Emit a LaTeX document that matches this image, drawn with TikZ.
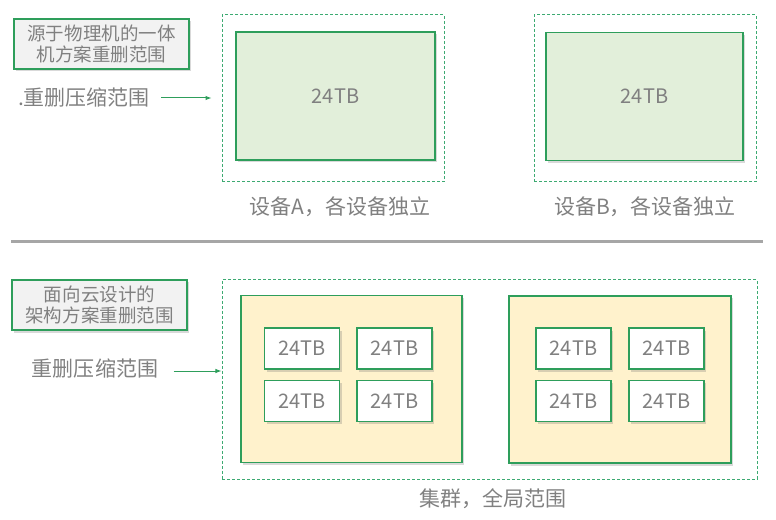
\documentclass[tikz,border=0pt]{standalone}
\usepackage{fontspec}
\setmainfont{Noto Sans CJK SC}
\usepackage{tikz}
\usetikzlibrary{arrows.meta,positioning,shadows}
\definecolor{DedupGreen}{HTML}{2E9E5B}
\definecolor{DashGreen}{HTML}{3DAA72}
\definecolor{TextGrey}{HTML}{808080}
\definecolor{DevFill}{HTML}{E2EFDA}
\definecolor{ClusterFill}{HTML}{FFF2CC}
\definecolor{NoteFill}{HTML}{F2F2F2}
\definecolor{RuleGrey}{HTML}{A6A6A6}
\tikzset{
  boxshadow/.style={drop shadow={shadow xshift=2bp,shadow yshift=-2.5bp,opacity=0.25,fill=black!60}},
  notebox/.style={rectangle,draw=DedupGreen,fill=NoteFill,line width=1.2bp,boxshadow,
              minimum width=175bp,minimum height=50bp,align=center,text=TextGrey,
              font=\fontsize{18.5bp}{21.5bp}\selectfont},
  devbox/.style={rectangle,draw=DedupGreen,fill=DevFill,line width=1.2bp,boxshadow,
              minimum width=199bp,minimum height=128bp,text=TextGrey,
              font=\fontsize{20bp}{24bp}\selectfont},
  dashbox/.style={rectangle,draw=DashGreen,dash pattern=on 3bp off 2bp,line width=1bp},
  clusterbox/.style={rectangle,draw=DedupGreen,fill=ClusterFill,line width=1.2bp,boxshadow,
              minimum width=221bp,minimum height=167bp},
  diskbox/.style={rectangle,draw=DedupGreen,fill=white,line width=1.2bp,boxshadow,
              minimum width=75bp,minimum height=41bp,text=TextGrey,
              font=\fontsize{20bp}{24bp}\selectfont},
  caption/.style={text=TextGrey,font=\fontsize{21bp}{25bp}\selectfont},
  arr/.style={-{Latex[length=6bp,width=4.5bp]},line width=1bp,color=DedupGreen},
}
\begin{document}
\begin{tikzpicture}[x=1bp,y=-1bp]
  \useasboundingbox (0,0) rectangle (776,520);

  % upper half: one box per device
  \node[notebox] (noteTop) at (101.5,44) {源于物理机的一体\\机方案重删范围};
  \node[caption] (scopeTop) at (84,98) {.重删压缩范围};
  \node[dashbox,minimum width=222bp,minimum height=167bp] (dashA) at (333,98.5) {};
  \node[devbox] (devA) at (335.5,96) {24TB};
  \node[dashbox,minimum width=222bp,minimum height=167bp] (dashB) at (645,98.5) {};
  \node[devbox,minimum width=197bp] (devB) at (644.5,96.5) {24TB};
  \node[caption] (capA) at (340,207) {设备A，各设备独立};
  \node[caption] (capB) at (645,207) {设备B，各设备独立};
  \draw[arr,shorten <=8bp,shorten >=10bp] (scopeTop.east) -- (scopeTop.east -| dashA.west);

  \draw[RuleGrey,line width=3bp] (11,242) -- (763,242);

  % lower half: one scope over the cluster
  \node[notebox] (noteBot) at (99.5,305) {面向云设计的\\架构方案重删范围};
  \node[caption] (scopeBot) at (95,368) {重删压缩范围};
  \node[dashbox,minimum width=535bp,minimum height=199bp] (dashAll) at (489.5,379.5) {};
  \node[clusterbox] (nodeL) at (351.5,379) {};
  \node[clusterbox,minimum width=222bp] (nodeR) at (620,379.5) {};
  \foreach \cx/\nm in {302/L1,394.5/L2,573.5/R1,666.5/R2}{
    \node[diskbox] (disk\nm a) at (\cx,348.5) {24TB};
    \node[diskbox] (disk\nm b) at (\cx,401) {24TB};
  }
  \node[caption] (capAll) at (493,499) {集群，全局范围};
  \draw[arr,shorten <=12bp] ([yshift=-3bp]scopeBot.east) -- ([yshift=-3bp]scopeBot.east -| dashAll.west);
\end{tikzpicture}
\end{document}
